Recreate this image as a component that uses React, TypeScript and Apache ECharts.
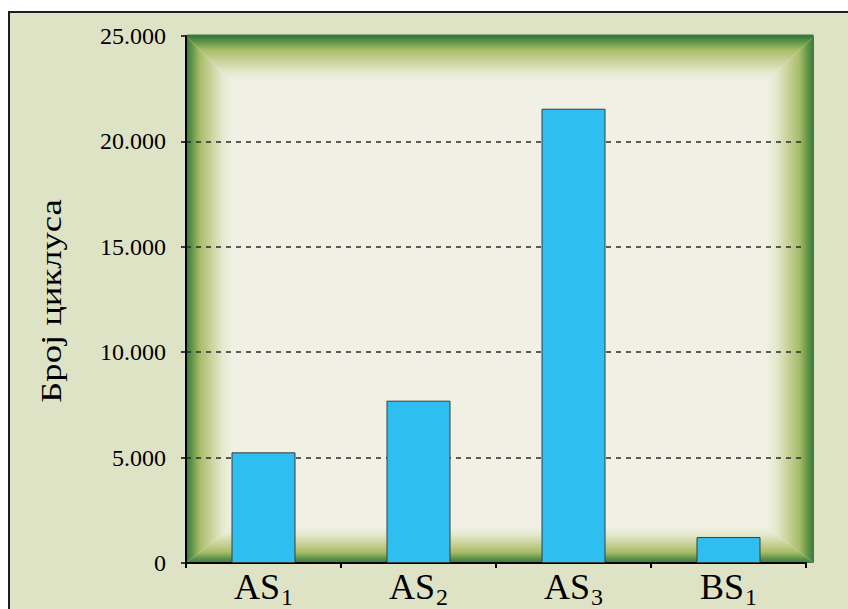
import React, { useEffect, useRef } from "react";
import * as echarts from "echarts";

const catMain = ["AS", "AS", "AS", "BS"];
const catSub = ["1", "2", "3", "1"];
const values = [5250, 7700, 21550, 1230];
const yTicks = [0, 5000, 10000, 15000, 20000, 25000];
const yName = "Број циклуса";

const FONT = "Liberation Serif, Times New Roman, serif";

function fmt(v: number): string {
  const s = Math.round(v).toString();
  return s.replace(/\B(?=(\d{3})+(?!\d))/g, ".");
}

export default function App() {
  const ref = useRef<HTMLDivElement>(null);
  useEffect(() => {
    if (!ref.current) return;
    const chart = echarts.init(ref.current, undefined, { renderer: "svg" });
    const L = 186, T = 36, R = 814, B = 563;
    const wl = 46, wt = 46, wr = 48, wb = 36;
    const edge = (dir: "top" | "left" | "right" | "bottom", pts: number[][]) => {
      const grad =
        dir === "top"
          ? [0, 0, 0, 1]
          : dir === "bottom"
          ? [0, 1, 0, 0]
          : dir === "left"
          ? [0, 0, 1, 0]
          : [1, 0, 0, 0];
      return {
        type: "polygon",
        z: -5,
        shape: { points: pts },
        style: {
          fill: new echarts.graphic.LinearGradient(grad[0], grad[1], grad[2], grad[3], [
            { offset: 0, color: "#3a783d" },
            { offset: 0.12, color: "#5b9346" },
            { offset: 0.3, color: "#a8bc68" },
            { offset: 0.55, color: "#cad39b" },
            { offset: 0.8, color: "#e5e9cf" },
            { offset: 1, color: "#f0f1e4" },
          ]),
        },
        silent: true,
      };
    };
    const option = {
      animation: false,
      backgroundColor: "#ffffff",
      graphic: [
        {
          type: "rect",
          z: -10,
          shape: { x: 9, y: 12, width: 900, height: 700 },
          style: { fill: "#dfe3c6", stroke: "#1e1e1e", lineWidth: 2 },
          silent: true,
        },
        {
          type: "rect",
          z: -6,
          shape: { x: L, y: T, width: R - L, height: B - T },
          style: { fill: "#f0f1e4" },
          silent: true,
        },
        edge("top", [[L, T], [R, T], [R - wr, T + wt], [L + wl, T + wt]]),
        edge("bottom", [[L, B], [R, B], [R - wr, B - wb], [L + wl, B - wb]]),
        edge("left", [[L, T], [L + wl, T + wt], [L + wl, B - wb], [L, B]]),
        edge("right", [[R, T], [R - wr, T + wt], [R - wr, B - wb], [R, B]]),
        {
          type: "rect",
          z: 10,
          shape: { x: L + 1.5, y: T - 1.5, width: R - L - 2, height: 3 },
          style: { fill: "#3a783d" },
          silent: true,
        },
        {
          type: "text",
          z: 5,
          x: 51,
          y: 301,
          rotation: Math.PI / 2,
          scaleX: 1.22,
          style: {
            text: yName,
            fontFamily: FONT,
            fontSize: 30,
            fill: "#000",
            align: "center",
            verticalAlign: "middle",
          },
        },
      ],
      grid: { left: 186, top: 36, width: 620, height: 527, containLabel: false },
      xAxis: {
        type: "category",
        data: catMain.map((m, i) => m + catSub[i]),
        axisLine: { show: true, lineStyle: { color: "#000", width: 2 } },
        axisTick: { show: true, length: 5, lineStyle: { color: "#000", width: 2 } },
        axisLabel: {
          margin: 6,
          formatter: (_v: string, i: number) => `{a|${catMain[i]}}{s|${catSub[i]}}`,
          rich: {
            a: { fontFamily: FONT, fontSize: 36, lineHeight: 36, color: "#000", verticalAlign: "top" },
            s: { fontFamily: FONT, fontSize: 24, lineHeight: 24, color: "#000", padding: [16, 0, 0, 1], verticalAlign: "top" },
          },
        },
      },
      yAxis: {
        type: "value",
        min: 0,
        max: 25000,
        interval: 5000,
        axisLine: { show: true, lineStyle: { color: "#000", width: 2 } },
        axisTick: { show: true, length: 5, lineStyle: { color: "#000", width: 1.5 } },
        axisLabel: {
          margin: 20,
          fontFamily: FONT,
          fontSize: 24,
          color: "#000",
          formatter: (v: number) => (yTicks.includes(v) ? fmt(v) : ""),
        },
        splitLine: {
          show: true,
          lineStyle: { color: "#2a2a2a", width: 1.5, type: [5, 5] },
        },
      },
      series: [
        {
          type: "bar",
          data: values,
          barWidth: 64,
          itemStyle: { color: "#2ebff0", borderColor: "#3c3c3c", borderWidth: 1 },
        },
      ],
    };
    chart.setOption(option as any);
    return () => chart.dispose();
  }, []);
  return (
    <div
      ref={ref}
      style={{ position: "absolute", left: 0, top: 0, width: 848, height: 609 }}
    />
  );
}
